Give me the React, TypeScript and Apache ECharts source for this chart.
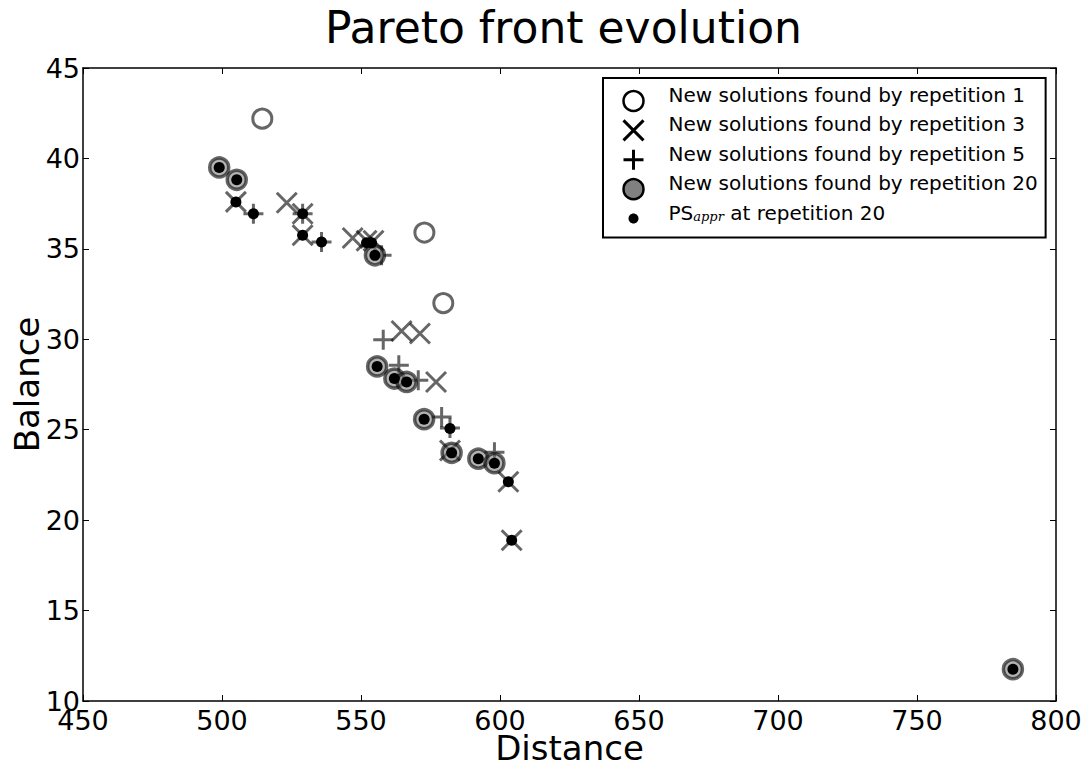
import React, { useEffect, useRef } from "react";
import * as echarts from "echarts";

// ---- data ----
const rep1Points: number[][] = [
  [514.5, 42.2],
  [572.8, 35.9],
  [579.6, 32.0],
];

const rep3Points: number[][] = [
  [505.0, 37.6],
  [523.3, 37.55],
  [529.0, 36.94],
  [529.0, 35.75],
  [547.0, 35.6],
  [552.0, 35.45],
  [554.5, 35.45],
  [564.6, 30.46],
  [571.2, 30.32],
  [577.0, 27.64],
  [582.0, 23.85],
  [603.0, 22.12],
  [604.2, 18.89],
];

const rep5Points: number[][] = [
  [511.3, 36.94],
  [529.0, 36.94],
  [535.8, 35.38],
  [557.4, 34.64],
  [558.0, 29.98],
  [563.6, 28.56],
  [570.6, 27.73],
  [579.0, 25.7],
  [582.0, 25.1],
  [598.0, 23.75],
];

const rep20Points: number[][] = [
  [499.0, 39.5],
  [505.3, 38.82],
  [555.0, 34.64],
  [555.8, 28.5],
  [562.0, 27.83],
  [566.4, 27.64],
  [572.7, 25.58],
  [582.6, 23.72],
  [592.2, 23.4],
  [598.0, 23.15],
  [784.5, 11.76],
];

const psApprPoints: number[][] = [
  [499.0, 39.5],
  [505.3, 38.82],
  [505.0, 37.59],
  [511.3, 36.94],
  [529.0, 36.94],
  [529.0, 35.75],
  [535.8, 35.38],
  [552.0, 35.34],
  [553.8, 35.34],
  [555.0, 34.64],
  [555.8, 28.5],
  [562.0, 27.83],
  [566.4, 27.64],
  [572.7, 25.58],
  [582.0, 25.07],
  [582.6, 23.72],
  [592.2, 23.4],
  [598.0, 23.15],
  [603.0, 22.12],
  [604.2, 18.89],
  [784.5, 11.76],
];

const seriesNames: string[] = [
  "New solutions found by repetition 1",
  "New solutions found by repetition 3",
  "New solutions found by repetition 5",
  "New solutions found by repetition 20",
  "PSappr at repetition 20",
];

const xRange = { min: 450, max: 800, step: 50 };
const yRange = { min: 10, max: 45, step: 5 };

const titleText = "Pareto front evolution";
const xName = "Distance";
const yName = "Balance";

// ---- styling ----
const FONT = "DejaVu Sans";
const X_PATH = "path://M0,0L20,20M20,0L0,20";
const PLUS_PATH = "path://M10,0L10,20M0,10L20,10";
const DOT_PATH =
  "path://M0,0M20,20M10,5C12.76,5 15,7.24 15,10C15,12.76 12.76,15 10,15C7.24,15 5,12.76 5,10C5,7.24 7.24,5 10,5Z";
const EDGE = "rgba(0,0,0,0.6)";

export default function App() {
  const ref = useRef<HTMLDivElement>(null);

  useEffect(() => {
    if (!ref.current) return;
    const chart = echarts.init(ref.current, undefined, { renderer: "svg" });

    const axisCommon = {
      type: "value" as const,
      axisLine: { show: true, onZero: false, lineStyle: { color: "#000", width: 1.5 } },
      axisTick: { show: true, inside: true, length: 6, lineStyle: { color: "#000", width: 1 } },
      splitLine: { show: false },
    };

    const option: any = {
      animation: false,
      backgroundColor: "#fff",
      title: {
        text: titleText,
        left: 325,
        top: 5,
        padding: 0,
        textStyle: { fontSize: 44, fontWeight: "normal", color: "#000", fontFamily: FONT },
      },
      grid: {
        left: 83,
        right: 33,
        top: 68,
        bottom: 66,
        containLabel: false,
        outerBoundsMode: "none",
      },
      xAxis: [
        {
          ...axisCommon,
          position: "bottom",
          min: xRange.min,
          max: xRange.max,
          interval: xRange.step,
          name: xName,
          nameLocation: "middle",
          nameGap: 32,
          nameMoveOverlap: false,
          nameTextStyle: { fontSize: 34, lineHeight: 30, color: "#000", fontFamily: FONT },
          axisLabel: {
            fontSize: 27,
            lineHeight: 26,
            color: "#000",
            fontFamily: FONT,
            margin: 6,
          },
        },
        {
          ...axisCommon,
          position: "top",
          min: xRange.min,
          max: xRange.max,
          interval: xRange.step,
          axisLabel: { show: false },
        },
      ],
      yAxis: [
        {
          ...axisCommon,
          position: "left",
          min: yRange.min,
          max: yRange.max,
          interval: yRange.step,
          name: yName,
          nameLocation: "middle",
          nameGap: 39,
          nameMoveOverlap: false,
          nameTextStyle: { fontSize: 34, color: "#000", fontFamily: FONT },
          axisLabel: { fontSize: 27, color: "#000", fontFamily: FONT, margin: 3 },
        },
        {
          ...axisCommon,
          position: "right",
          min: yRange.min,
          max: yRange.max,
          interval: yRange.step,
          axisLabel: { show: false },
        },
      ],
      legend: {
        orient: "vertical",
        left: 603,
        top: 78,
        padding: [7, 8, 3, 19],
        itemWidth: 20,
        itemHeight: 20,
        itemGap: -2.6,
        borderColor: "#000",
        borderWidth: 2,
        backgroundColor: "#fff",
        selectedMode: false,
        textStyle: {
          fontSize: 20,
          lineHeight: 20,
          color: "#000",
          fontFamily: FONT,
          padding: [0, 0, 12, 20],
          rich: {
            a: { fontSize: 20, lineHeight: 20, color: "#000", fontFamily: FONT },
            s: {
              fontSize: 13,
              lineHeight: 4,
              verticalAlign: "bottom",
              color: "#000",
              fontStyle: "italic",
              fontFamily: "DejaVu Serif",
            },
          },
        },
        formatter: (name: string) =>
          name === seriesNames[4] ? "{a|PS}{s|appr}{a| at repetition 20}" : name,
        data: [
          {
            name: seriesNames[0],
            icon: "circle",
            itemStyle: { color: "#fff", borderColor: "#000", borderWidth: 2.5, opacity: 1 },
          },
          {
            name: seriesNames[1],
            icon: X_PATH,
            itemStyle: { color: "transparent", borderColor: "#000", borderWidth: 3, opacity: 1 },
          },
          {
            name: seriesNames[2],
            icon: PLUS_PATH,
            itemStyle: { color: "transparent", borderColor: "#000", borderWidth: 3, opacity: 1 },
          },
          {
            name: seriesNames[3],
            icon: "circle",
            itemStyle: { color: "#808080", borderColor: "#000", borderWidth: 2.5, opacity: 1 },
          },
          {
            name: seriesNames[4],
            icon: DOT_PATH,
            itemStyle: { color: "#000", borderColor: "#000", borderWidth: 0, opacity: 1 },
          },
        ],
      },
      series: [
        {
          type: "scatter",
          name: seriesNames[0],
          data: rep1Points,
          symbol: "circle",
          symbolSize: 19,
          itemStyle: { color: "transparent", borderColor: EDGE, borderWidth: 3, opacity: 1 },
          z: 2,
          emphasis: { disabled: true },
        },
        {
          type: "scatter",
          name: seriesNames[1],
          data: rep3Points,
          symbol: X_PATH,
          symbolSize: 20,
          itemStyle: { color: "transparent", borderColor: EDGE, borderWidth: 3, opacity: 1 },
          z: 3,
          emphasis: { disabled: true },
        },
        {
          type: "scatter",
          name: seriesNames[2],
          data: rep5Points,
          symbol: PLUS_PATH,
          symbolSize: 20,
          itemStyle: { color: "transparent", borderColor: EDGE, borderWidth: 3, opacity: 1 },
          z: 4,
          emphasis: { disabled: true },
        },
        {
          type: "scatter",
          name: seriesNames[3],
          data: rep20Points,
          symbol: "circle",
          symbolSize: 19,
          itemStyle: {
            color: "rgba(128,128,128,0.6)",
            borderColor: EDGE,
            borderWidth: 3.5,
            opacity: 1,
          },
          z: 5,
          emphasis: { disabled: true },
        },
        {
          type: "scatter",
          name: seriesNames[4],
          data: psApprPoints,
          symbol: "circle",
          symbolSize: 11,
          itemStyle: { color: "#000", opacity: 1 },
          z: 6,
          emphasis: { disabled: true },
        },
      ],
    };

    chart.setOption(option);
    return () => chart.dispose();
  }, []);

  return (
    <div
      ref={ref}
      style={{ position: "fixed", left: 0, top: 0, width: 1089, height: 767 }}
    />
  );
}
